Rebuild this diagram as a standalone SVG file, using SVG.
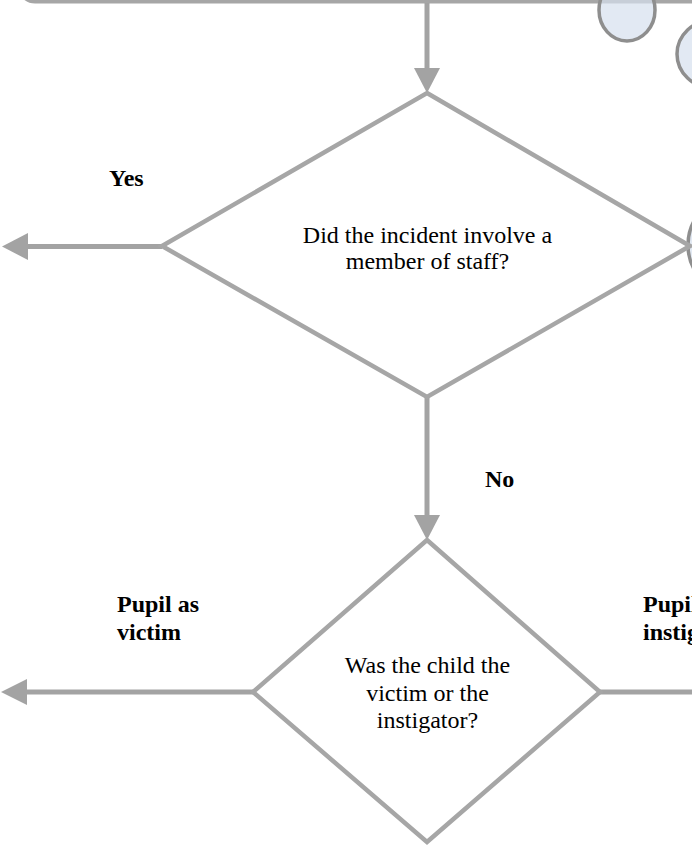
<svg xmlns="http://www.w3.org/2000/svg" width="692" height="846" viewBox="0 0 692 846">
  <style>
    .frame { fill: #ffffff; stroke: #a6a6a6; stroke-width: 5; }
    .bubble { fill: #d5e0ee; fill-opacity: 0.7; stroke: #8e8e8e; stroke-width: 3.5; }
    .decision { fill: #ffffff; stroke: #a6a6a6; stroke-width: 4.5; stroke-linejoin: miter; }
    .conn { fill: none; stroke: #a3a3a3; stroke-width: 5; }
    .head { fill: #a3a3a3; stroke: none; }
    .txt { font-family: "Liberation Serif", "Times New Roman", serif; font-size: 24px; fill: #000000; }
    .lbl { font-family: "Liberation Serif", "Times New Roman", serif; font-size: 24px; font-weight: bold; fill: #000000; }
  </style>

  <rect width="692" height="846" fill="#ffffff"/>

  <g id="top-box">
    <rect class="frame" x="20" y="-60" width="720" height="61" rx="15" ry="15"/>
  </g>

  <g id="bubbles">
    <ellipse class="bubble" cx="627" cy="10" rx="28" ry="31"/>
    <ellipse class="bubble" cx="713" cy="54" rx="36" ry="34"/>
    <ellipse class="bubble" cx="730" cy="245" rx="42" ry="46"/>
  </g>

  <g id="connectors">
    <line class="conn" x1="427" y1="3" x2="427" y2="70"/>
    <polygon class="head" points="414,68 440,68 427,93"/>
    <line class="conn" x1="427" y1="397" x2="427" y2="517"/>
    <polygon class="head" points="414,515 440,515 427,540"/>
    <line class="conn" x1="162" y1="246.5" x2="26" y2="246.5"/>
    <polygon class="head" points="28,233 28,260 2,246.5"/>
    <line class="conn" x1="253" y1="692" x2="25" y2="692"/>
    <polygon class="head" points="27,679 27,705 1,692"/>
    <line class="conn" x1="600" y1="692" x2="692" y2="692"/>
  </g>

  <g id="decision-staff">
    <polygon class="decision" points="427,93 690,246 427,397 162,246"/>
    <text class="txt" text-anchor="middle" x="427.5" y="243">Did the incident involve a</text>
    <text class="txt" text-anchor="middle" x="427.5" y="269">member of staff?</text>
  </g>

  <g id="decision-victim">
    <polygon class="decision" points="427,540 600,692 427,842 253,692"/>
    <text class="txt" text-anchor="middle" x="427.5" y="673">Was the child the</text>
    <text class="txt" text-anchor="middle" x="427.5" y="701">victim or the</text>
    <text class="txt" text-anchor="middle" x="427.5" y="728">instigator?</text>
  </g>

  <g id="labels">
    <text class="lbl" x="109" y="186">Yes</text>
    <text class="lbl" x="485" y="487">No</text>
    <text class="lbl" x="117" y="612">Pupil as</text>
    <text class="lbl" x="117" y="640">victim</text>
    <text class="lbl" x="643" y="612">Pupil as</text>
    <text class="lbl" x="643" y="640">instigator</text>
  </g>
</svg>
